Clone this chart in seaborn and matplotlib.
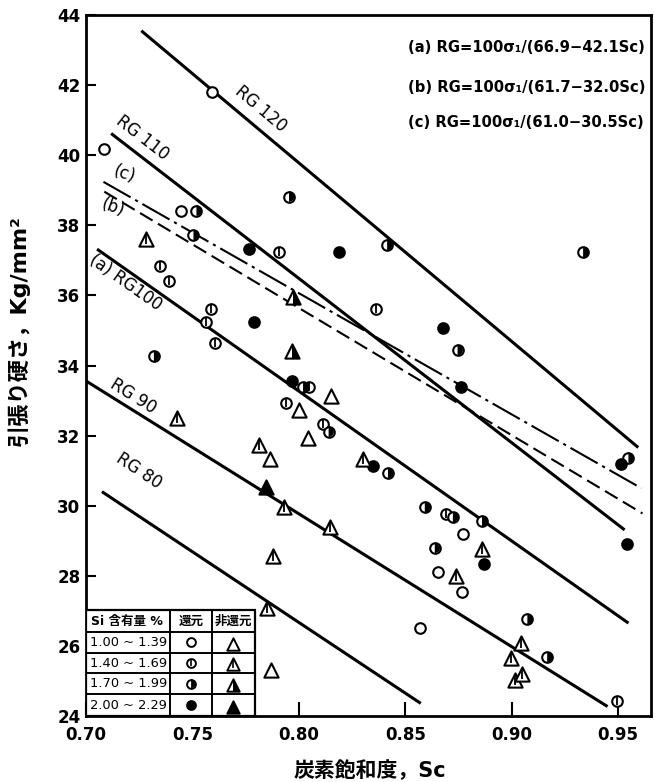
import numpy as np
import pandas as pd
import matplotlib
matplotlib.use("Agg")
import matplotlib.pyplot as plt
from matplotlib.markers import MarkerStyle
from matplotlib.patches import Rectangle
import seaborn as sns

# ---------------- data ----------------
si_levels = ["1.00 ~ 1.39", "1.40 ~ 1.69", "1.70 ~ 1.99", "2.00 ~ 2.29"]

# reduced (還元) specimens, circles
red1_sc = [0.7085, 0.7445, 0.7592, 0.8771, 0.8652, 0.8768, 0.8570]
red1_sig = [40.18, 38.42, 41.79, 29.18, 28.12, 27.55, 26.52]

red2_sc = [0.7346, 0.7388, 0.7586, 0.7562, 0.7604, 0.7908, 0.8365, 0.8050, 0.7940,
           0.8113, 0.8693, 0.9493]
red2_sig = [36.85, 36.41, 35.61, 35.24, 34.65, 37.23, 35.60, 33.40, 32.92,
            32.33, 29.76, 24.44]

red3_sc = [0.7519, 0.7505, 0.7954, 0.8415, 0.9336, 0.8746, 0.9549, 0.7319, 0.8020,
           0.8140, 0.8419, 0.8592, 0.8724, 0.8861, 0.8639, 0.9074, 0.9167]
red3_sig = [38.42, 37.72, 38.82, 37.44, 37.23, 34.44, 31.37, 34.27, 33.38,
            32.11, 30.92, 29.95, 29.67, 29.56, 28.80, 26.76, 25.67]

red4_sc = [0.7765, 0.8190, 0.7788, 0.8679, 0.8764, 0.7969, 0.8348, 0.9514, 0.9541, 0.8868]
red4_sig = [37.32, 37.23, 35.24, 35.06, 33.40, 33.56, 31.14, 31.18, 28.90, 28.34]

# non-reduced (非還元) specimens, triangles
non1_sc = [0.7864, 0.8001, 0.8044, 0.8151, 0.7871]
non1_sig = [31.33, 32.73, 31.92, 33.14, 25.31]

non2_sc = [0.7284, 0.7429, 0.7813, 0.7929, 0.7877, 0.7850, 0.8147, 0.8303, 0.8863,
           0.8739, 0.9043, 0.8996, 0.9014, 0.9048]
non2_sig = [37.62, 32.51, 31.73, 29.97, 28.57, 27.07, 29.40, 31.32, 28.76,
            27.99, 26.07, 25.65, 25.03, 25.19]

non3_sc = [0.7972, 0.7968]
non3_sig = [35.96, 34.41]

non4_sc = [0.7847]
non4_sig = [30.54]

# iso-RG lines, end points (Sc, sigma)
rg_labels = ["RG 120", "RG 110", "(a) RG100", "RG 90", "RG 80"]
rg_sc0 = [0.726, 0.7118, 0.7052, 0.700, 0.7075]
rg_sc1 = [0.9595, 0.9531, 0.9549, 0.9451, 0.8573]
rg_sig0 = [43.55, 40.62, 37.32, 33.56, 30.40]
rg_sig1 = [31.66, 29.31, 26.65, 24.27, 24.36]
rg_label_sc = [0.7821, 0.7265, 0.7185, 0.7220, 0.7250]
rg_label_sig = [41.32, 40.50, 36.36, 33.11, 31.00]

# RG = 100 lines of equations (b) and (c)
b_sc = [0.7086, 0.9615]
b_sig = [38.96, 29.78]
c_sc = [0.7082, 0.9609]
c_sig = [39.24, 30.50]

equations = ["(a) RG=100σ₁/(66.9−42.1Sc)",
             "(b) RG=100σ₁/(61.7−32.0Sc)",
             "(c) RG=100σ₁/(61.0−30.5Sc)"]

x_ticks = [0.70, 0.75, 0.80, 0.85, 0.90, 0.95]
x_tick_labels = ["0.70", "0.75", "0.80", "0.85", "0.90", "0.95"]
y_ticks = list(range(24, 45, 2))

# ---------------- style ----------------
sns.set_theme(style="white")
plt.rcParams["font.family"] = ["DejaVu Sans", "Noto Sans CJK JP"]
for key in ["text.color", "axes.labelcolor", "xtick.color", "ytick.color", "axes.edgecolor"]:
    plt.rcParams[key] = "black"

fig = plt.figure(figsize=(6.55, 7.82), dpi=100)
ax = fig.add_axes([86 / 655, 1 - 716 / 782, 565 / 655, 701 / 782])
ax.set_xlim(0.70, 0.9655)
ax.set_ylim(24, 44)

CIRCLE_S = 58
TRI_S = 105


def draw_group(sc, sig, shape, fill):
    df = pd.DataFrame({"Sc": sc, "sigma": sig})
    size = CIRCLE_S if shape == "o" else TRI_S
    face = "black" if fill == "filled" else "white"
    sns.scatterplot(data=df, x="Sc", y="sigma", marker=shape, s=size,
                    color=face, edgecolor="black", linewidth=1.5,
                    ax=ax, zorder=5, legend=False)
    if fill == "half":
        sns.scatterplot(data=df, x="Sc", y="sigma",
                        marker=MarkerStyle(shape, fillstyle="right"), s=size,
                        color="black", edgecolor="none", linewidth=0,
                        ax=ax, zorder=6, legend=False)
    elif fill == "bar":
        sns.scatterplot(data=df, x="Sc", y="sigma", marker="|",
                        s=size * (0.45 if shape == "o" else 0.42),
                        color="black", linewidth=1.3,
                        ax=ax, zorder=6, legend=False)


def key_glyph(x, y, shape, fill):
    size = 40 if shape == "o" else 80
    face = "black" if fill == "filled" else "white"
    ax.scatter([x], [y], marker=shape, s=size, facecolor=face, edgecolor="black",
               linewidth=1.4, transform=ax.transAxes, zorder=11, clip_on=False)
    if fill == "half":
        ax.scatter([x], [y], marker=MarkerStyle(shape, fillstyle="right"), s=size,
                   facecolor="black", edgecolor="none", transform=ax.transAxes,
                   zorder=12, clip_on=False)
    elif fill == "bar":
        ax.scatter([x], [y], marker="|", s=size * 0.42, color="black",
                   linewidth=1.2, transform=ax.transAxes, zorder=12, clip_on=False)


# ---------------- lines ----------------
for s0, s1, g0, g1 in zip(rg_sc0, rg_sc1, rg_sig0, rg_sig1):
    ax.plot([s0, s1], [g0, g1], color="black", lw=2.2, solid_capstyle="butt", zorder=3)
ax.plot(b_sc, b_sig, color="black", lw=1.5, linestyle=(0, (7, 3)), zorder=3)
ax.plot(c_sc, c_sig, color="black", lw=1.5, linestyle=(0, (15, 2.5, 1.5, 2.5)), zorder=3)

# ---------------- points ----------------
fills = ["open", "bar", "half", "filled"]
for sc, sig, f in zip([red1_sc, red2_sc, red3_sc, red4_sc],
                      [red1_sig, red2_sig, red3_sig, red4_sig], fills):
    draw_group(sc, sig, "o", f)
for sc, sig, f in zip([non1_sc, non2_sc, non3_sc, non4_sc],
                      [non1_sig, non2_sig, non3_sig, non4_sig], fills):
    draw_group(sc, sig, "^", f)


# ---------------- line labels ----------------
def angle_of(s0, g0, s1, g1):
    p0 = ax.transData.transform((s0, g0))
    p1 = ax.transData.transform((s1, g1))
    return np.degrees(np.arctan2(p1[1] - p0[1], p1[0] - p0[0]))


for i, name in enumerate(rg_labels):
    ang = angle_of(rg_sc0[i], rg_sig0[i], rg_sc1[i], rg_sig1[i])
    ax.text(rg_label_sc[i], rg_label_sig[i], name, rotation=ang, rotation_mode="anchor",
            ha="center", va="center", fontsize=12, zorder=4)
ax.text(0.718, 39.45, "(c)", rotation=-20, ha="center", va="center", fontsize=12)
ax.text(0.7125, 38.50, "(b)", rotation=-20, ha="center", va="center", fontsize=12)

# ---------------- equations ----------------
for txt, yy in zip(equations, [0.954, 0.897, 0.846]):
    ax.text(0.570, yy, txt, transform=ax.transAxes, ha="left", va="center",
            fontsize=10.6, fontweight="bold", clip_on=False)

# ---------------- key table ----------------
tx = [0.0, 0.149, 0.223, 0.299]
ty = [0.151, 0.120, 0.090, 0.061, 0.031, 0.0]
ax.add_patch(Rectangle((0, 0), tx[3], ty[0], transform=ax.transAxes,
                       facecolor="white", edgecolor="black", lw=1.6, zorder=9))
for yy in ty[1:-1]:
    ax.plot([0, tx[3]], [yy, yy], transform=ax.transAxes, color="black", lw=1.4, zorder=10)
for xx in tx[1:3]:
    ax.plot([xx, xx], [0, ty[0]], transform=ax.transAxes, color="black", lw=1.4, zorder=10)
hy = (ty[0] + ty[1]) / 2
ax.text(0.008, hy, "Si 含有量 %", transform=ax.transAxes, ha="left", va="center",
        fontsize=9, fontweight="bold", zorder=11)
ax.text((tx[1] + tx[2]) / 2, hy, "還元", transform=ax.transAxes, ha="center",
        va="center", fontsize=9, fontweight="bold", zorder=11)
ax.text((tx[2] + tx[3]) / 2, hy, "非還元", transform=ax.transAxes, ha="center",
        va="center", fontsize=9, fontweight="bold", zorder=11)
for r, (lvl, f) in enumerate(zip(si_levels, fills)):
    cy = (ty[r + 1] + ty[r + 2]) / 2
    ax.text(0.007, cy, lvl, transform=ax.transAxes, ha="left", va="center",
            fontsize=9.4, zorder=11)
    key_glyph((tx[1] + tx[2]) / 2, cy, "o", f)
    key_glyph((tx[2] + tx[3]) / 2, cy - 0.002, "^", f)

# ---------------- axes ----------------
ax.set_xticks(x_ticks)
ax.set_xticklabels(x_tick_labels)
ax.set_yticks(y_ticks)
ax.set_yticklabels([str(v) for v in y_ticks])
ax.tick_params(axis="x", direction="in", length=10, width=1.5, pad=7,
               labelsize=12, bottom=True)
ax.tick_params(axis="y", direction="in", length=7, width=1.5, pad=4,
               labelsize=12, left=True)
for lab in ax.get_xticklabels() + ax.get_yticklabels():
    lab.set_fontweight("bold")
for sp in ax.spines.values():
    sp.set_linewidth(2.0)
    sp.set_color("black")
    sp.set_visible(True)

ax.set_xlabel("炭素飽和度，Sc", fontsize=15, fontweight="bold")
ax.set_ylabel("引張り硬さ，Kg/mm²", fontsize=16, fontweight="bold")
ax.xaxis.set_label_coords(0.503, -0.063)
ax.yaxis.set_label_coords(-0.099, 0.55)

fig.savefig("out.png", dpi=100)
